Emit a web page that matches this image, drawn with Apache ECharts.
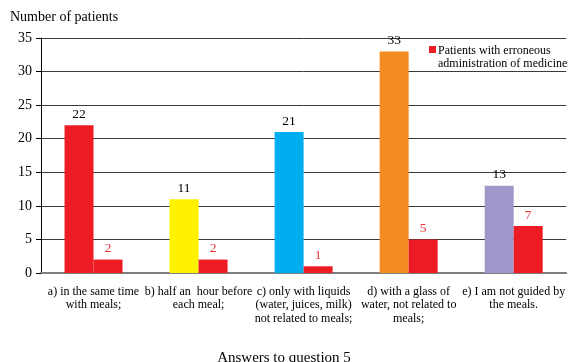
<!DOCTYPE html>
<html>
<head>
<meta charset="utf-8">
<script src="https://cdn.jsdelivr.net/npm/echarts@6/dist/echarts.min.js"></script>
<style>
  html, body { margin: 0; padding: 0; background: #fff; }
  #chart { width: 568px; height: 362px; }
</style>
</head>
<body>
<div id="chart"></div>
<script>
// Answer categories (x axis)
const categories = [
  'a) in the same time\nwith meals;',
  'b) half an  hour before\neach meal;',
  'c) only with liquids\n(water, juices, milk)\nnot related to meals;',
  'd) with a glass of\nwater, not related to\nmeals;',
  'e) I am not guided by\nthe meals.'
];
// All patients per answer
const allPatients = [22, 11, 21, 33, 13];
// Patients with erroneous administration of medicines
const erroneousPatients = [2, 2, 1, 5, 7];
// Per-answer colours of the first series
const answerColors = ['#ED1C24', '#FFF200', '#00AEEF', '#F48A22', '#9F98CA'];
const yTicks = [0, 5, 10, 15, 20, 25, 30, 35];
const erroneousName = 'Patients with erroneous\nadministration of medicines';

const FONT = '"Liberation Serif", "Times New Roman", serif';
const RED = '#ED1C24';

const chart = echarts.init(document.getElementById('chart'), null, { renderer: 'canvas' });

chart.setOption({
  animation: false,
  backgroundColor: '#ffffff',
  textStyle: { fontFamily: FONT },
  grid: { left: 41, right: 0, top: 38, bottom: 89, containLabel: false },
  graphic: [
    {
      type: 'text', left: 10, top: 10,
      style: { text: 'Number of patients', font: '14px ' + FONT, fill: '#000' }
    },
    {
      type: 'text', left: 'center', top: 351,
      style: { text: 'Answers to question 5', font: '15px ' + FONT, fill: '#000' }
    },
    // legend key for the erroneous-administration series
    {
      type: 'rect', left: 429, top: 46,
      shape: { width: 7, height: 7 },
      style: { fill: RED }
    },
    {
      type: 'text', left: 438, top: 44,
      style: {
        text: erroneousName, font: '12px ' + FONT, fill: '#000',
        lineHeight: 13, verticalAlign: 'top'
      }
    }
  ],
  xAxis: {
    type: 'category',
    data: categories,
    axisLine: { lineStyle: { color: '#7f7f7f', width: 2 } },
    axisTick: { show: false },
    axisLabel: {
      interval: 0,
      margin: 12,
      color: '#000',
      fontFamily: FONT,
      fontSize: 12,
      lineHeight: 13.5,
      align: 'center'
    }
  },
  yAxis: {
    type: 'value',
    min: yTicks[0],
    max: yTicks[yTicks.length - 1],
    interval: 5,
    axisLine: { show: true, lineStyle: { color: '#000', width: 1 } },
    axisTick: { show: true, length: 5, lineStyle: { color: '#000' } },
    axisLabel: { color: '#000', fontFamily: FONT, fontSize: 14, margin: 9 },
    splitLine: { lineStyle: { color: '#3a3a3a', width: 1 } }
  },
  series: [
    {
      name: 'Patients',
      type: 'bar',
      data: allPatients.map((v, i) => ({ value: v, itemStyle: { color: answerColors[i] } })),
      barWidth: 29,
      barGap: '0%',
      label: {
        show: true, position: 'top', distance: 4,
        color: '#000', fontFamily: FONT, fontSize: 13.5
      }
    },
    {
      name: erroneousName,
      type: 'bar',
      data: erroneousPatients,
      barWidth: 29,
      barGap: '0%',
      itemStyle: { color: RED },
      label: {
        show: true, position: 'top', distance: 4,
        color: '#F0323A', fontFamily: FONT, fontSize: 13.5
      }
    }
  ]
});
</script>
</body>
</html>
